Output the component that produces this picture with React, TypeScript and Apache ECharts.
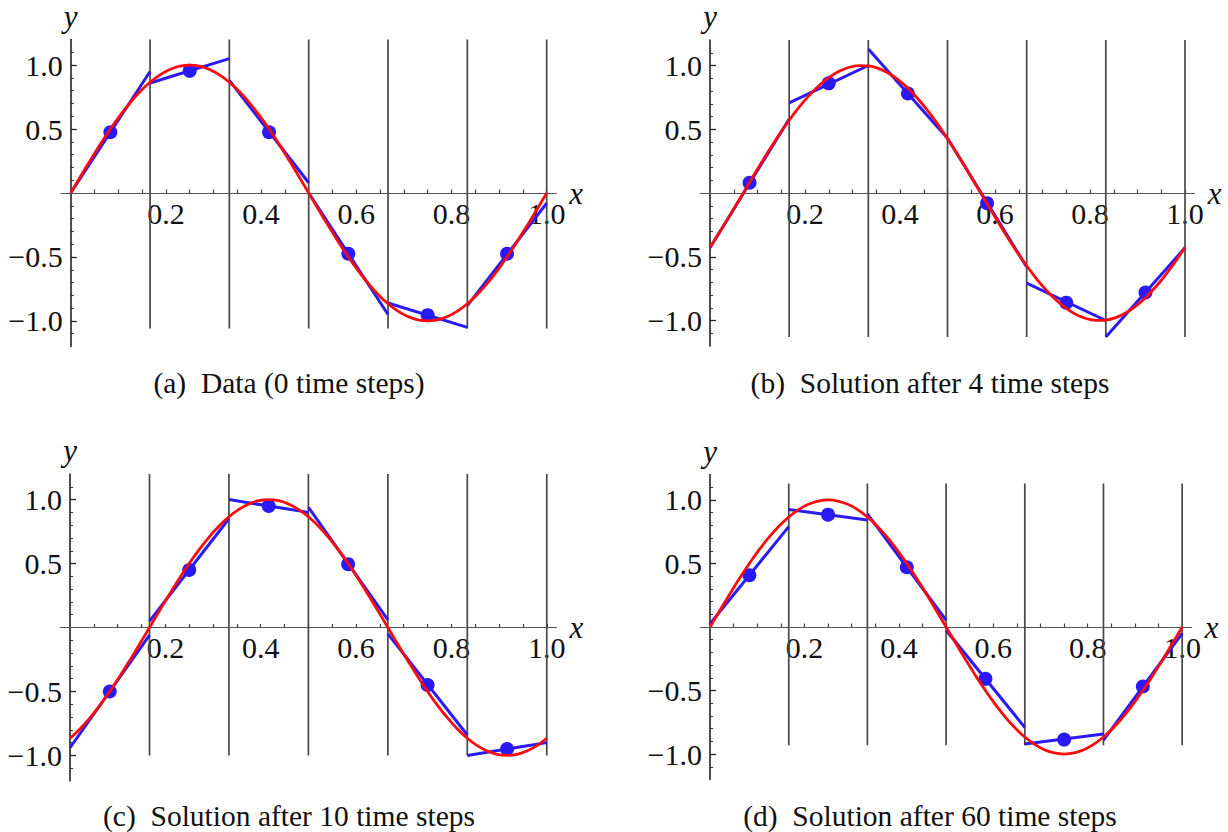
import React, { useEffect, useRef } from "react";
import * as echarts from "echarts";

// ---- shared axis values ----
const edges = [0, 0.1667, 0.3333, 0.5, 0.6667, 0.8333, 1];
const centers = [0.0833, 0.25, 0.4167, 0.5833, 0.75, 0.9167];
const xTickValues = [0.05, 0.1, 0.15, 0.2, 0.25, 0.3, 0.35, 0.4, 0.45, 0.5, 0.55, 0.6, 0.65, 0.7, 0.75, 0.8, 0.85, 0.9, 0.95, 1.0];
const xLabelValues = [0.2, 0.4, 0.6, 0.8, 1.0];
const yLabelValues = [-1, -0.5, 0.5, 1];
const yMinorTickValues = [-1.1, -0.9, -0.8, -0.7, -0.6, -0.4, -0.3, -0.2, -0.1, 0.1, 0.2, 0.3, 0.4, 0.6, 0.7, 0.8, 0.9, 1.1];

// ---- red (exact) curve, read every 1/48 ----
const redX = [0, 0.0208, 0.0417, 0.0625, 0.0833, 0.1042, 0.125, 0.1458, 0.1667, 0.1875, 0.2083, 0.2292, 0.25, 0.2708, 0.2917, 0.3125, 0.3333, 0.3542, 0.375, 0.3958, 0.4167, 0.4375, 0.4583, 0.4792, 0.5, 0.5208, 0.5417, 0.5625, 0.5833, 0.6042, 0.625, 0.6458, 0.6667, 0.6875, 0.7083, 0.7292, 0.75, 0.7708, 0.7917, 0.8125, 0.8333, 0.8542, 0.875, 0.8958, 0.9167, 0.9375, 0.9583, 0.9792, 1];
const redA = [0, 0.1305, 0.2588, 0.3827, 0.5, 0.6088, 0.7071, 0.7934, 0.866, 0.9239, 0.9659, 0.9914, 1, 0.9914, 0.9659, 0.9239, 0.866, 0.7934, 0.7071, 0.6088, 0.5, 0.3827, 0.2588, 0.1305, 0, -0.1305, -0.2588, -0.3827, -0.5, -0.6088, -0.7071, -0.7934, -0.866, -0.9239, -0.9659, -0.9914, -1, -0.9914, -0.9659, -0.9239, -0.866, -0.7934, -0.7071, -0.6088, -0.5, -0.3827, -0.2588, -0.1305, 0];
const redB = [-0.4258, -0.304, -0.1771, -0.0471, 0.0837, 0.213, 0.3387, 0.4586, 0.5707, 0.673, 0.7638, 0.8415, 0.9048, 0.9527, 0.9842, 0.9989, 0.9965, 0.977, 0.9409, 0.8886, 0.8211, 0.7396, 0.6455, 0.5402, 0.4258, 0.304, 0.1771, 0.0471, -0.0837, -0.213, -0.3387, -0.4586, -0.5707, -0.673, -0.7638, -0.8415, -0.9048, -0.9527, -0.9842, -0.9989, -0.9965, -0.977, -0.9409, -0.8886, -0.8211, -0.7396, -0.6455, -0.5402, -0.4258];
const redC = [-0.866, -0.7934, -0.7071, -0.6088, -0.5, -0.3827, -0.2588, -0.1305, 0, 0.1305, 0.2588, 0.3827, 0.5, 0.6088, 0.7071, 0.7934, 0.866, 0.9239, 0.9659, 0.9914, 1, 0.9914, 0.9659, 0.9239, 0.866, 0.7934, 0.7071, 0.6088, 0.5, 0.3827, 0.2588, 0.1305, 0, -0.1305, -0.2588, -0.3827, -0.5, -0.6088, -0.7071, -0.7934, -0.866, -0.9239, -0.9659, -0.9914, -1, -0.9914, -0.9659, -0.9239, -0.866];
const redD = [0, 0.1305, 0.2588, 0.3827, 0.5, 0.6088, 0.7071, 0.7934, 0.866, 0.9239, 0.9659, 0.9914, 1, 0.9914, 0.9659, 0.9239, 0.866, 0.7934, 0.7071, 0.6088, 0.5, 0.3827, 0.2588, 0.1305, 0, -0.1305, -0.2588, -0.3827, -0.5, -0.6088, -0.7071, -0.7934, -0.866, -0.9239, -0.9659, -0.9914, -1, -0.9914, -0.9659, -0.9239, -0.866, -0.7934, -0.7071, -0.6088, -0.5, -0.3827, -0.2588, -0.1305, 0];

// ---- blue piecewise-linear solution: value at left / right end of each element, and element mean ----
const leftA = [0.0, 0.86, 0.88, 0.0, -0.86, -0.88];
const rightA = [0.95, 1.05, 0.08, -0.95, -1.05, -0.08];
const dotsA = [0.475, 0.955, 0.475, -0.475, -0.955, -0.475];

const leftB = [-0.43, 0.707, 1.13, 0.43, -0.707, -1.13];
const rightB = [0.58, 1.0, 0.43, -0.58, -1.0, -0.43];
const dotsB = [0.08, 0.86, 0.78, -0.08, -0.86, -0.78];

const leftC = [-0.94, 0.05, 1.0, 0.94, -0.05, -1.0];
const rightC = [-0.06, 0.85, 0.9, 0.06, -0.84, -0.9];
const dotsC = [-0.5, 0.45, 0.95, 0.495, -0.45, -0.95];

const leftD = [0.026, 0.924, 0.89, -0.026, -0.92, -0.89];
const rightD = [0.79, 0.842, 0.053, -0.79, -0.842, -0.05];
const dotsD = [0.408, 0.884, 0.47, -0.408, -0.886, -0.468];

// vertical element-boundary lines: bottom / top value per panel
const lineBottom = [-1.06, -1.13, -1.0, -0.93];
const lineTop = [1.2, 1.2, 1.2, 1.13];

const captions = [
  "(a)  Data (0 time steps)",
  "(b)  Solution after 4 time steps",
  "(c)  Solution after 10 time steps",
  "(d)  Solution after 60 time steps",
];

// layout (pixels)
const panels = [
  { left: 61.2, top: 39.5, width: 495, height: 307, capX: 289, capY: 383 },
  { left: 700.5, top: 40, width: 494, height: 306, capX: 930, capY: 383 },
  { left: 60.5, top: 474, width: 495.8, height: 307, capX: 289, capY: 816 },
  { left: 700.6, top: 474.5, width: 491, height: 305, capX: 930, capY: 816 },
];

const panelData = [
  { red: redA, left: leftA, right: rightA, dots: dotsA },
  { red: redB, left: leftB, right: rightB, dots: dotsB },
  { red: redC, left: leftC, right: rightC, dots: dotsC },
  { red: redD, left: leftD, right: rightD, dots: dotsD },
];

const X_MIN = -0.02;
const X_MAX = 1.02;
const Y_MIN = -1.2;
const Y_MAX = 1.2;

const SERIF = "Liberation Serif, Times New Roman, serif";
const BLUE = "#2a1af7";
const RED = "#ff0a0a";

function fmt(v: number) {
  const s = Math.abs(v).toFixed(1);
  return v < 0 ? "\u2212" + s : s;
}

export default function App() {
  const ref = useRef<HTMLDivElement>(null);
  useEffect(() => {
    if (!ref.current) return;
    const chart = echarts.init(ref.current, undefined, { renderer: "svg" });

    const grid: any[] = [];
    const xAxis: any[] = [];
    const yAxis: any[] = [];
    const yAxisMinor: any[] = [];
    const series: any[] = [];

    panels.forEach((p, i) => {
      // axis offsets so that the axes cross at (0, 0) inside the grid
      const yOff = -((0 - X_MIN) / (X_MAX - X_MIN)) * p.width;
      const xOff = -((0 - Y_MIN) / (Y_MAX - Y_MIN)) * p.height;
      grid.push({ left: p.left, top: p.top, width: p.width, height: p.height, containLabel: false });
      xAxis.push({
        type: "value",
        gridIndex: i,
        min: X_MIN,
        max: X_MAX,
        position: "bottom",
        offset: xOff,
        name: "x",
        nameLocation: "end",
        nameGap: 8,
        nameTextStyle: { fontFamily: SERIF, fontStyle: "italic", fontSize: 31, color: "#111" },
        axisLine: { onZero: false, lineStyle: { color: "#555", width: 1.2 } },
        axisTick: { show: true, inside: true, length: 3.5, customValues: xTickValues, lineStyle: { color: "#444", width: 1.2 } },
        axisLabel: { customValues: xLabelValues, formatter: (v: number) => fmt(v), fontFamily: SERIF, fontSize: 30, color: "#111", margin: 5 },
        splitLine: { show: false },
      });
      yAxis.push({
        type: "value",
        gridIndex: i,
        min: Y_MIN,
        max: Y_MAX,
        position: "left",
        offset: yOff,
        name: "y",
        nameLocation: "end",
        nameGap: 8,
        nameTextStyle: { fontFamily: SERIF, fontStyle: "italic", fontSize: 31, color: "#111", align: "center" },
        axisLine: { onZero: false, lineStyle: { color: "#222", width: 1.6 } },
        axisTick: { show: true, inside: true, length: 6, customValues: yLabelValues, lineStyle: { color: "#222", width: 1.3 } },
        axisLabel: { customValues: yLabelValues, formatter: (v: number) => fmt(v), fontFamily: SERIF, fontSize: 30, color: "#111", margin: 8 },
        splitLine: { show: false },
      });
      yAxisMinor.push({
        type: "value",
        gridIndex: i,
        min: Y_MIN,
        max: Y_MAX,
        position: "left",
        offset: yOff,
        axisLine: { show: false, onZero: false },
        axisTick: { show: true, inside: true, length: 3, customValues: yMinorTickValues, lineStyle: { color: "#333", width: 1.1 } },
        axisLabel: { show: false },
        splitLine: { show: false },
      });

      const d = panelData[i];
      for (let k = 1; k < edges.length; k++) {
        series.push({
          type: "line",
          xAxisIndex: i,
          yAxisIndex: i,
          data: [[edges[k], lineBottom[i]], [edges[k], lineTop[i]]],
          symbol: "none",
          silent: true,
          lineStyle: { color: "#474747", width: 1.7 },
          z: 1,
        });
      }
      for (let k = 0; k < centers.length; k++) {
        series.push({
          type: "line",
          xAxisIndex: i,
          yAxisIndex: i,
          data: [[edges[k], d.left[k]], [edges[k + 1], d.right[k]]],
          symbol: "none",
          silent: true,
          lineStyle: { color: BLUE, width: 3 },
          z: 2,
        });
      }
      series.push({
        type: "scatter",
        xAxisIndex: i,
        yAxisIndex: i,
        data: centers.map((c, k) => [c, d.dots[k]]),
        symbol: "circle",
        symbolSize: 14,
        itemStyle: { color: BLUE, opacity: 1 },
        silent: true,
        z: 3,
      });
      series.push({
        type: "line",
        xAxisIndex: i,
        yAxisIndex: i,
        data: redX.map((x, j) => [x, d.red[j]]),
        smooth: 0.3,
        symbol: "none",
        silent: true,
        lineStyle: { color: RED, width: 2.8 },
        z: 4,
      });
    });

    const graphic = panels.map((p, i) => ({
      type: "text",
      x: p.capX,
      y: p.capY,
      style: {
        text: captions[i],
        fontFamily: SERIF,
        fontSize: 29.5,
        fill: "#111",
        textAlign: "center",
        textVerticalAlign: "middle",
        align: "center",
        verticalAlign: "middle",
      },
    }));

    chart.setOption({
      animation: false,
      backgroundColor: "#ffffff",
      grid,
      xAxis,
      yAxis: [...yAxis, ...yAxisMinor],
      series,
      graphic,
    });
    return () => chart.dispose();
  }, []);
  return <div ref={ref} style={{ position: "absolute", left: 0, top: 0, width: 1228, height: 832 }} />;
}
